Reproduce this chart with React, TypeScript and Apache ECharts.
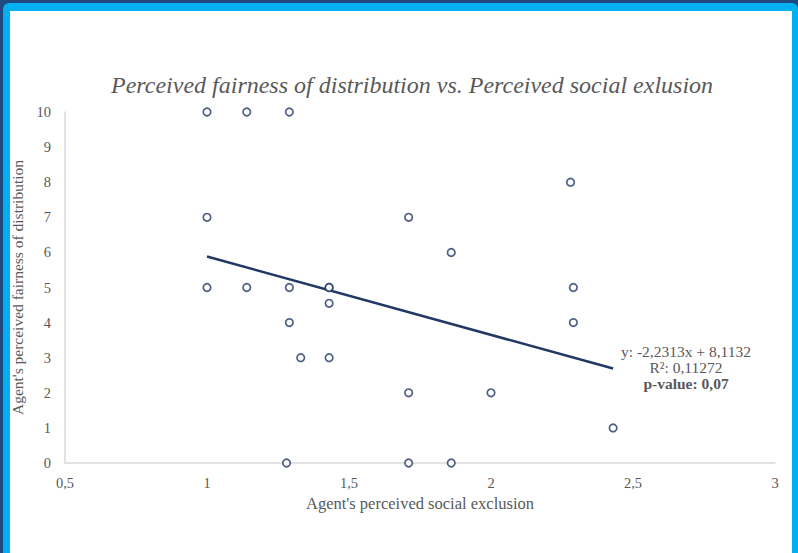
import React, { useEffect, useRef } from "react";
import * as echarts from "echarts";

const title = "Perceived fairness of distribution vs. Perceived social exlusion";
const xName = "Agent's perceived social exclusion";
const yName = "Agent's perceived fairness of distribution";

const xValues = [1.0, 1.14, 1.29, 2.28, 1.0, 1.71, 1.86, 1.0, 1.14, 1.29, 1.43, 1.43, 2.29, 1.43, 1.29, 2.29, 1.33, 1.43, 1.71, 2.0, 2.43, 1.28, 1.71, 1.86];
const yValues = [10, 10, 10, 8, 7, 7, 6, 5, 5, 5, 5, 5, 5, 4.55, 4, 4, 3, 3, 2, 2, 1, 0, 0, 0];

const slope = -2.2313;
const intercept = 8.1132;
const trendX = [1.0, 2.43];

const equationLines = ["y: -2,2313x + 8,1132", "R²: 0,11272", "p-value: 0,07"];

const xTicks = { min: 0.5, max: 3, interval: 0.5 };
const yTicks = { min: 0, max: 10, interval: 1 };

const fmt = (v: number) => String(v).replace(".", ",");

export default function App() {
  const ref = useRef<HTMLDivElement>(null);
  useEffect(() => {
    if (!ref.current) return;
    const chart = echarts.init(ref.current, null, { renderer: "svg" });
    const font = "Liberation Serif";
    const gray = "#595959";
    chart.setOption({
      animation: false,
      textStyle: { fontFamily: font },
      title: {
        text: title,
        left: 106,
        top: 68,
        textStyle: { fontFamily: font, fontStyle: "italic", fontWeight: "normal", fontSize: 24, color: gray },
      },
      grid: { left: 65, right: 23, top: 112, bottom: 90 },
      xAxis: {
        type: "value",
        min: xTicks.min,
        max: xTicks.max,
        interval: xTicks.interval,
        name: xName,
        nameLocation: "middle",
        nameGap: 30,
        nameTextStyle: { fontFamily: font, fontSize: 16.5, color: gray },
        axisLine: { show: true, lineStyle: { color: "#d9d9d9", width: 1.5 } },
        axisTick: { show: false },
        splitLine: { show: false },
        axisLabel: { formatter: fmt, fontFamily: font, fontSize: 14.5, color: gray, margin: 12 },
      },
      yAxis: {
        type: "value",
        min: yTicks.min,
        max: yTicks.max,
        interval: yTicks.interval,
        name: yName,
        nameLocation: "middle",
        nameGap: 38,
        nameTextStyle: { fontFamily: font, fontSize: 15.5, color: gray },
        axisLine: { show: true, lineStyle: { color: "#d9d9d9", width: 1.5 } },
        axisTick: { show: false },
        splitLine: { show: false },
        axisLabel: { formatter: fmt, fontFamily: font, fontSize: 14.5, color: gray, margin: 14 },
      },
      series: [
        {
          type: "line",
          data: trendX.map((x) => [x, slope * x + intercept]),
          symbol: "none",
          lineStyle: { color: "#203864", width: 2.5 },
          z: 1,
        },
        {
          type: "scatter",
          data: xValues.map((x, i) => [x, yValues[i]]),
          symbol: "circle",
          symbolSize: 7.5,
          itemStyle: { color: "#ffffff", borderColor: "#203864", borderWidth: 1.7 },
          z: 2,
        },
      ],
      graphic: equationLines.map((t, i) => ({
        type: "text",
        x: 686,
        y: 351 + i * 16,
        style: {
          text: t,
          fill: gray,
          font: (i === 2 ? "bold " : "") + "15.5px " + font,
          align: "center",
          verticalAlign: "middle",
        },
      })),
    });
    return () => chart.dispose();
  }, []);
  return (
    <div style={{ position: "fixed", left: 0, top: 0, width: 798, height: 553, background: "#22497f" }}>
      <div style={{ position: "absolute", left: 3, top: 3, right: 0, bottom: -10, background: "#00b0f0", borderRadius: 6 }} />
      <div style={{ position: "absolute", left: 10, top: 11, width: 782, bottom: 0, background: "#ffffff" }} />
      <div ref={ref} style={{ position: "absolute", left: 0, top: 0, width: 798, height: 553 }} />
    </div>
  );
}
